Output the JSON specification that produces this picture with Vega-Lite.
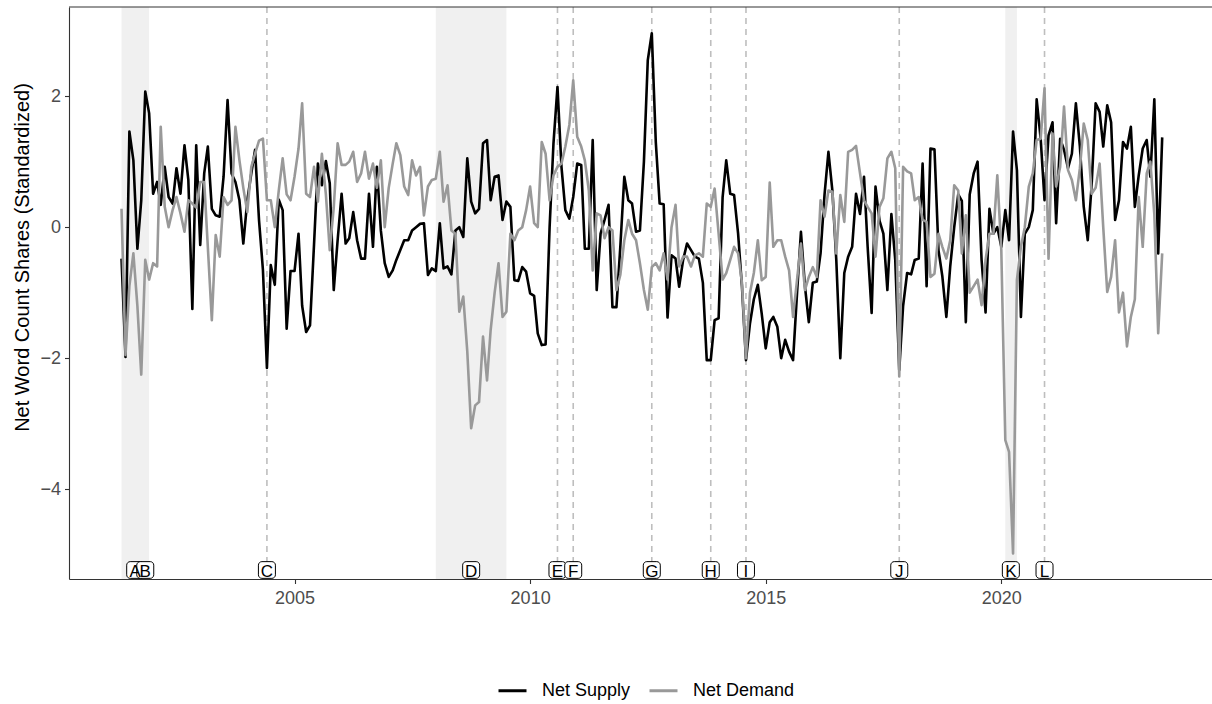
{
  "$schema": "https://vega.github.io/schema/vega-lite/v6.json",
  "autosize": {"type": "none"},
  "padding": {"left": 69, "top": 7, "right": 0, "bottom": 125},
  "width": 1143,
  "height": 572,
  "background": "white",
  "config": {
    "view": {"stroke": null},
    "font": "Liberation Sans",
    "axis": {"grid": false, "domainColor": "#333333", "domainWidth": 1.1, "tickColor": "#333333", "tickWidth": 1.1, "tickSize": 4.5, "labelColor": "#4D4D4D", "labelFontSize": 18, "labelFont": "Liberation Sans", "titleFont": "Liberation Sans", "titleFontWeight": "normal", "titleColor": "#000000"}
  },
  "datasets": {
    "series": [
      {"date": "2001-05", "Net Supply": -0.48, "Net Demand": 0.28},
      {"date": "2001-06", "Net Supply": -1.98, "Net Demand": -1.95},
      {"date": "2001-07", "Net Supply": 1.46, "Net Demand": -0.9},
      {"date": "2001-08", "Net Supply": 1.02, "Net Demand": -0.4},
      {"date": "2001-09", "Net Supply": -0.33, "Net Demand": -1.2},
      {"date": "2001-10", "Net Supply": 0.41, "Net Demand": -2.25},
      {"date": "2001-11", "Net Supply": 2.07, "Net Demand": -0.5},
      {"date": "2001-12", "Net Supply": 1.74, "Net Demand": -0.8},
      {"date": "2002-01", "Net Supply": 0.51, "Net Demand": -0.55},
      {"date": "2002-02", "Net Supply": 0.69, "Net Demand": -0.6},
      {"date": "2002-03", "Net Supply": 0.34, "Net Demand": 1.53},
      {"date": "2002-04", "Net Supply": 0.92, "Net Demand": 0.31},
      {"date": "2002-05", "Net Supply": 0.46, "Net Demand": 0.0},
      {"date": "2002-06", "Net Supply": 0.36, "Net Demand": 0.26},
      {"date": "2002-07", "Net Supply": 0.9, "Net Demand": 0.46},
      {"date": "2002-08", "Net Supply": 0.51, "Net Demand": 0.21},
      {"date": "2002-09", "Net Supply": 1.25, "Net Demand": -0.07},
      {"date": "2002-10", "Net Supply": 0.72, "Net Demand": 0.41},
      {"date": "2002-11", "Net Supply": -1.25, "Net Demand": 0.36},
      {"date": "2002-12", "Net Supply": 1.25, "Net Demand": 0.3},
      {"date": "2003-01", "Net Supply": -0.27, "Net Demand": 0.69},
      {"date": "2003-02", "Net Supply": 0.82, "Net Demand": 0.69},
      {"date": "2003-03", "Net Supply": 1.23, "Net Demand": -0.3},
      {"date": "2003-04", "Net Supply": 0.28, "Net Demand": -1.42},
      {"date": "2003-05", "Net Supply": 0.18, "Net Demand": -0.12},
      {"date": "2003-06", "Net Supply": 0.16, "Net Demand": -0.45},
      {"date": "2003-07", "Net Supply": 0.77, "Net Demand": 0.46},
      {"date": "2003-08", "Net Supply": 1.94, "Net Demand": 0.34},
      {"date": "2003-09", "Net Supply": 0.82, "Net Demand": 0.41},
      {"date": "2003-10", "Net Supply": 0.69, "Net Demand": 1.53},
      {"date": "2003-11", "Net Supply": 0.41, "Net Demand": 1.02},
      {"date": "2003-12", "Net Supply": -0.25, "Net Demand": 0.6},
      {"date": "2004-01", "Net Supply": 0.41, "Net Demand": 0.23},
      {"date": "2004-02", "Net Supply": 0.82, "Net Demand": 0.92},
      {"date": "2004-03", "Net Supply": 1.18, "Net Demand": 1.12},
      {"date": "2004-04", "Net Supply": 0.1, "Net Demand": 1.32},
      {"date": "2004-05", "Net Supply": -0.65, "Net Demand": 1.35},
      {"date": "2004-06", "Net Supply": -2.15, "Net Demand": 0.41},
      {"date": "2004-07", "Net Supply": -0.58, "Net Demand": 0.41},
      {"date": "2004-08", "Net Supply": -0.88, "Net Demand": 0.0},
      {"date": "2004-09", "Net Supply": 0.42, "Net Demand": 0.56},
      {"date": "2004-10", "Net Supply": 0.26, "Net Demand": 1.05},
      {"date": "2004-11", "Net Supply": -1.55, "Net Demand": 0.5},
      {"date": "2004-12", "Net Supply": -0.67, "Net Demand": 0.41},
      {"date": "2005-01", "Net Supply": -0.67, "Net Demand": 0.77},
      {"date": "2005-02", "Net Supply": -0.1, "Net Demand": 1.2},
      {"date": "2005-03", "Net Supply": -1.2, "Net Demand": 1.89},
      {"date": "2005-04", "Net Supply": -1.6, "Net Demand": 0.51},
      {"date": "2005-05", "Net Supply": -1.5, "Net Demand": 0.46},
      {"date": "2005-06", "Net Supply": -0.27, "Net Demand": 0.92},
      {"date": "2005-07", "Net Supply": 0.97, "Net Demand": 0.39},
      {"date": "2005-08", "Net Supply": 0.64, "Net Demand": 1.12},
      {"date": "2005-09", "Net Supply": 1.01, "Net Demand": 0.5},
      {"date": "2005-10", "Net Supply": 0.67, "Net Demand": -0.35},
      {"date": "2005-11", "Net Supply": -0.96, "Net Demand": 0.3},
      {"date": "2005-12", "Net Supply": -0.2, "Net Demand": 1.28},
      {"date": "2006-01", "Net Supply": 0.51, "Net Demand": 0.95},
      {"date": "2006-02", "Net Supply": -0.25, "Net Demand": 0.95},
      {"date": "2006-03", "Net Supply": -0.17, "Net Demand": 1.0},
      {"date": "2006-04", "Net Supply": 0.23, "Net Demand": 1.15},
      {"date": "2006-05", "Net Supply": -0.2, "Net Demand": 0.69},
      {"date": "2006-06", "Net Supply": -0.48, "Net Demand": 0.82},
      {"date": "2006-07", "Net Supply": -0.48, "Net Demand": 1.15},
      {"date": "2006-08", "Net Supply": 0.51, "Net Demand": 0.74},
      {"date": "2006-09", "Net Supply": -0.3, "Net Demand": 0.97},
      {"date": "2006-10", "Net Supply": 0.92, "Net Demand": 0.6},
      {"date": "2006-11", "Net Supply": -0.05, "Net Demand": 1.02},
      {"date": "2006-12", "Net Supply": -0.55, "Net Demand": 0.0},
      {"date": "2007-01", "Net Supply": -0.76, "Net Demand": 0.6},
      {"date": "2007-02", "Net Supply": -0.66, "Net Demand": 0.97},
      {"date": "2007-03", "Net Supply": -0.5, "Net Demand": 1.28},
      {"date": "2007-04", "Net Supply": -0.35, "Net Demand": 1.1},
      {"date": "2007-05", "Net Supply": -0.2, "Net Demand": 0.62},
      {"date": "2007-06", "Net Supply": -0.2, "Net Demand": 0.49},
      {"date": "2007-07", "Net Supply": -0.05, "Net Demand": 1.02},
      {"date": "2007-08", "Net Supply": 0.0, "Net Demand": 0.79},
      {"date": "2007-09", "Net Supply": 0.05, "Net Demand": 0.92},
      {"date": "2007-10", "Net Supply": 0.06, "Net Demand": 0.18},
      {"date": "2007-11", "Net Supply": -0.73, "Net Demand": 0.62},
      {"date": "2007-12", "Net Supply": -0.63, "Net Demand": 0.72},
      {"date": "2008-01", "Net Supply": -0.67, "Net Demand": 0.74},
      {"date": "2008-02", "Net Supply": 0.06, "Net Demand": 1.15},
      {"date": "2008-03", "Net Supply": -0.63, "Net Demand": 0.39},
      {"date": "2008-04", "Net Supply": -0.6, "Net Demand": 0.64},
      {"date": "2008-05", "Net Supply": -0.72, "Net Demand": -0.05},
      {"date": "2008-06", "Net Supply": -0.05, "Net Demand": -0.1},
      {"date": "2008-07", "Net Supply": 0.0, "Net Demand": -1.29},
      {"date": "2008-08", "Net Supply": -0.15, "Net Demand": -1.06},
      {"date": "2008-09", "Net Supply": 1.05, "Net Demand": -1.9},
      {"date": "2008-10", "Net Supply": 0.39, "Net Demand": -3.07},
      {"date": "2008-11", "Net Supply": 0.21, "Net Demand": -2.72},
      {"date": "2008-12", "Net Supply": 0.28, "Net Demand": -2.67},
      {"date": "2009-01", "Net Supply": 1.28, "Net Demand": -1.67},
      {"date": "2009-02", "Net Supply": 1.33, "Net Demand": -2.34},
      {"date": "2009-03", "Net Supply": 0.41, "Net Demand": -1.57},
      {"date": "2009-04", "Net Supply": 0.77, "Net Demand": -1.0},
      {"date": "2009-05", "Net Supply": 0.79, "Net Demand": -0.55},
      {"date": "2009-06", "Net Supply": 0.11, "Net Demand": -1.37},
      {"date": "2009-07", "Net Supply": 0.39, "Net Demand": -1.29},
      {"date": "2009-08", "Net Supply": 0.31, "Net Demand": -0.1},
      {"date": "2009-09", "Net Supply": -0.81, "Net Demand": -0.2},
      {"date": "2009-10", "Net Supply": -0.82, "Net Demand": -0.05},
      {"date": "2009-11", "Net Supply": -0.61, "Net Demand": 0.0},
      {"date": "2009-12", "Net Supply": -0.68, "Net Demand": 0.26},
      {"date": "2010-01", "Net Supply": -1.01, "Net Demand": 0.62},
      {"date": "2010-02", "Net Supply": -1.05, "Net Demand": 0.06},
      {"date": "2010-03", "Net Supply": -1.62, "Net Demand": 0.0},
      {"date": "2010-04", "Net Supply": -1.8, "Net Demand": 1.3},
      {"date": "2010-05", "Net Supply": -1.79, "Net Demand": 1.12},
      {"date": "2010-06", "Net Supply": 0.0, "Net Demand": 0.41},
      {"date": "2010-07", "Net Supply": 1.28, "Net Demand": 0.79},
      {"date": "2010-08", "Net Supply": 2.14, "Net Demand": 0.92},
      {"date": "2010-09", "Net Supply": 0.92, "Net Demand": 0.97},
      {"date": "2010-10", "Net Supply": 0.26, "Net Demand": 1.23},
      {"date": "2010-11", "Net Supply": 0.13, "Net Demand": 1.56},
      {"date": "2010-12", "Net Supply": 0.46, "Net Demand": 2.24},
      {"date": "2011-01", "Net Supply": 0.97, "Net Demand": 1.38},
      {"date": "2011-02", "Net Supply": 0.95, "Net Demand": 1.23},
      {"date": "2011-03", "Net Supply": -0.33, "Net Demand": 1.02},
      {"date": "2011-04", "Net Supply": -0.33, "Net Demand": 0.56},
      {"date": "2011-05", "Net Supply": 1.33, "Net Demand": -0.66},
      {"date": "2011-06", "Net Supply": -0.96, "Net Demand": 0.21},
      {"date": "2011-07", "Net Supply": -0.1, "Net Demand": 0.18},
      {"date": "2011-08", "Net Supply": 0.11, "Net Demand": -0.17},
      {"date": "2011-09", "Net Supply": 0.34, "Net Demand": 0.0},
      {"date": "2011-10", "Net Supply": -1.22, "Net Demand": -0.05},
      {"date": "2011-11", "Net Supply": -1.22, "Net Demand": -0.96},
      {"date": "2011-12", "Net Supply": -0.3, "Net Demand": -0.73},
      {"date": "2012-01", "Net Supply": 0.77, "Net Demand": -0.2},
      {"date": "2012-02", "Net Supply": 0.41, "Net Demand": 0.11},
      {"date": "2012-03", "Net Supply": 0.36, "Net Demand": -0.1},
      {"date": "2012-04", "Net Supply": -0.07, "Net Demand": -0.2},
      {"date": "2012-05", "Net Supply": -0.05, "Net Demand": -0.55},
      {"date": "2012-06", "Net Supply": 1.0, "Net Demand": -0.96},
      {"date": "2012-07", "Net Supply": 2.55, "Net Demand": -1.26},
      {"date": "2012-08", "Net Supply": 2.96, "Net Demand": -0.61},
      {"date": "2012-09", "Net Supply": 1.3, "Net Demand": -0.55},
      {"date": "2012-10", "Net Supply": 0.36, "Net Demand": -0.66},
      {"date": "2012-11", "Net Supply": 0.35, "Net Demand": -0.4},
      {"date": "2012-12", "Net Supply": -1.38, "Net Demand": -0.8},
      {"date": "2013-01", "Net Supply": -0.43, "Net Demand": 0.0},
      {"date": "2013-02", "Net Supply": -0.48, "Net Demand": 0.34},
      {"date": "2013-03", "Net Supply": -0.91, "Net Demand": -0.6},
      {"date": "2013-04", "Net Supply": -0.5, "Net Demand": -0.45},
      {"date": "2013-05", "Net Supply": -0.25, "Net Demand": -0.45},
      {"date": "2013-06", "Net Supply": -0.35, "Net Demand": -0.6},
      {"date": "2013-07", "Net Supply": -0.45, "Net Demand": -0.43},
      {"date": "2013-08", "Net Supply": -0.48, "Net Demand": -0.4},
      {"date": "2013-09", "Net Supply": -0.85, "Net Demand": -0.45},
      {"date": "2013-10", "Net Supply": -2.03, "Net Demand": 0.36},
      {"date": "2013-11", "Net Supply": -2.03, "Net Demand": 0.31},
      {"date": "2013-12", "Net Supply": -1.42, "Net Demand": 0.59},
      {"date": "2014-01", "Net Supply": -1.39, "Net Demand": -0.1},
      {"date": "2014-02", "Net Supply": 0.46, "Net Demand": -0.8},
      {"date": "2014-03", "Net Supply": 1.02, "Net Demand": -0.7},
      {"date": "2014-04", "Net Supply": 0.51, "Net Demand": -0.5},
      {"date": "2014-05", "Net Supply": 0.49, "Net Demand": -0.3},
      {"date": "2014-06", "Net Supply": -0.1, "Net Demand": -0.4},
      {"date": "2014-07", "Net Supply": -0.91, "Net Demand": -0.85},
      {"date": "2014-08", "Net Supply": -2.03, "Net Demand": -2.0},
      {"date": "2014-09", "Net Supply": -1.47, "Net Demand": -1.0},
      {"date": "2014-10", "Net Supply": -1.1, "Net Demand": -0.7},
      {"date": "2014-11", "Net Supply": -0.88, "Net Demand": -0.2},
      {"date": "2014-12", "Net Supply": -1.32, "Net Demand": -0.81},
      {"date": "2015-01", "Net Supply": -1.85, "Net Demand": -0.76},
      {"date": "2015-02", "Net Supply": -1.45, "Net Demand": 0.68},
      {"date": "2015-03", "Net Supply": -1.37, "Net Demand": -0.3},
      {"date": "2015-04", "Net Supply": -1.52, "Net Demand": -0.2},
      {"date": "2015-05", "Net Supply": -2.0, "Net Demand": -0.2},
      {"date": "2015-06", "Net Supply": -1.72, "Net Demand": -0.45},
      {"date": "2015-07", "Net Supply": -1.9, "Net Demand": -0.66},
      {"date": "2015-08", "Net Supply": -2.03, "Net Demand": -1.37},
      {"date": "2015-09", "Net Supply": -1.0, "Net Demand": -0.8},
      {"date": "2015-10", "Net Supply": -0.07, "Net Demand": -0.25},
      {"date": "2015-11", "Net Supply": -0.9, "Net Demand": -0.96},
      {"date": "2015-12", "Net Supply": -1.45, "Net Demand": -0.76},
      {"date": "2016-01", "Net Supply": -0.85, "Net Demand": -0.61},
      {"date": "2016-02", "Net Supply": -0.83, "Net Demand": -0.76},
      {"date": "2016-03", "Net Supply": -0.4, "Net Demand": 0.41},
      {"date": "2016-04", "Net Supply": 0.5, "Net Demand": 0.16},
      {"date": "2016-05", "Net Supply": 1.15, "Net Demand": 0.56},
      {"date": "2016-06", "Net Supply": 0.55, "Net Demand": 0.54},
      {"date": "2016-07", "Net Supply": -0.5, "Net Demand": -0.4},
      {"date": "2016-08", "Net Supply": -2.0, "Net Demand": 0.49},
      {"date": "2016-09", "Net Supply": -0.7, "Net Demand": 0.08},
      {"date": "2016-10", "Net Supply": -0.45, "Net Demand": 1.15},
      {"date": "2016-11", "Net Supply": -0.3, "Net Demand": 1.18},
      {"date": "2016-12", "Net Supply": 0.51, "Net Demand": 1.24},
      {"date": "2017-01", "Net Supply": 0.2, "Net Demand": 0.82},
      {"date": "2017-02", "Net Supply": 0.77, "Net Demand": 0.41},
      {"date": "2017-03", "Net Supply": -0.3, "Net Demand": 0.31},
      {"date": "2017-04", "Net Supply": -1.31, "Net Demand": 0.21},
      {"date": "2017-05", "Net Supply": 0.62, "Net Demand": -0.45},
      {"date": "2017-06", "Net Supply": 0.1, "Net Demand": 0.31},
      {"date": "2017-07", "Net Supply": -0.1, "Net Demand": 0.44},
      {"date": "2017-08", "Net Supply": -0.96, "Net Demand": 1.05},
      {"date": "2017-09", "Net Supply": 0.2, "Net Demand": 1.15},
      {"date": "2017-10", "Net Supply": -0.5, "Net Demand": 0.9},
      {"date": "2017-11", "Net Supply": -2.18, "Net Demand": -2.28},
      {"date": "2017-12", "Net Supply": -1.2, "Net Demand": 0.92},
      {"date": "2018-01", "Net Supply": -0.7, "Net Demand": 0.85},
      {"date": "2018-02", "Net Supply": -0.72, "Net Demand": 0.82},
      {"date": "2018-03", "Net Supply": -0.5, "Net Demand": 0.41},
      {"date": "2018-04", "Net Supply": -0.48, "Net Demand": 0.46},
      {"date": "2018-05", "Net Supply": 0.97, "Net Demand": 0.11},
      {"date": "2018-06", "Net Supply": -0.9, "Net Demand": 0.08},
      {"date": "2018-07", "Net Supply": 1.2, "Net Demand": -0.76},
      {"date": "2018-08", "Net Supply": 1.19, "Net Demand": -0.71},
      {"date": "2018-09", "Net Supply": -0.35, "Net Demand": -0.1},
      {"date": "2018-10", "Net Supply": -0.75, "Net Demand": -0.3},
      {"date": "2018-11", "Net Supply": -1.37, "Net Demand": -0.48},
      {"date": "2018-12", "Net Supply": -0.6, "Net Demand": -0.2},
      {"date": "2019-01", "Net Supply": 0.0, "Net Demand": 0.64},
      {"date": "2019-02", "Net Supply": 0.5, "Net Demand": 0.56},
      {"date": "2019-03", "Net Supply": 0.4, "Net Demand": -0.4},
      {"date": "2019-04", "Net Supply": -1.45, "Net Demand": 0.18},
      {"date": "2019-05", "Net Supply": 0.5, "Net Demand": -1.0},
      {"date": "2019-06", "Net Supply": 0.82, "Net Demand": -0.9},
      {"date": "2019-07", "Net Supply": 1.0, "Net Demand": -0.8},
      {"date": "2019-08", "Net Supply": -0.5, "Net Demand": -1.19},
      {"date": "2019-09", "Net Supply": -1.3, "Net Demand": -0.5},
      {"date": "2019-10", "Net Supply": 0.28, "Net Demand": -0.1},
      {"date": "2019-11", "Net Supply": -0.1, "Net Demand": -0.1},
      {"date": "2019-12", "Net Supply": 0.0, "Net Demand": 0.79},
      {"date": "2020-01", "Net Supply": -0.3, "Net Demand": -0.35},
      {"date": "2020-02", "Net Supply": 0.26, "Net Demand": -3.25},
      {"date": "2020-03", "Net Supply": -0.2, "Net Demand": -3.43},
      {"date": "2020-04", "Net Supply": 1.46, "Net Demand": -4.98},
      {"date": "2020-05", "Net Supply": 0.87, "Net Demand": -0.8},
      {"date": "2020-06", "Net Supply": -1.37, "Net Demand": -0.3},
      {"date": "2020-07", "Net Supply": -0.1, "Net Demand": 0.0},
      {"date": "2020-08", "Net Supply": 0.0, "Net Demand": 0.62},
      {"date": "2020-09", "Net Supply": 0.26, "Net Demand": 0.82},
      {"date": "2020-10", "Net Supply": 1.95, "Net Demand": 1.33},
      {"date": "2020-11", "Net Supply": 1.35, "Net Demand": 1.35},
      {"date": "2020-12", "Net Supply": 0.41, "Net Demand": 2.12},
      {"date": "2021-01", "Net Supply": 1.4, "Net Demand": -0.48},
      {"date": "2021-02", "Net Supply": 1.6, "Net Demand": 1.43},
      {"date": "2021-03", "Net Supply": 0.06, "Net Demand": 0.62},
      {"date": "2021-04", "Net Supply": 1.35, "Net Demand": 0.92},
      {"date": "2021-05", "Net Supply": 1.18, "Net Demand": 1.84},
      {"date": "2021-06", "Net Supply": 0.9, "Net Demand": 0.87},
      {"date": "2021-07", "Net Supply": 1.12, "Net Demand": 0.72},
      {"date": "2021-08", "Net Supply": 1.89, "Net Demand": 0.41},
      {"date": "2021-09", "Net Supply": 1.23, "Net Demand": 0.9},
      {"date": "2021-10", "Net Supply": 0.31, "Net Demand": 1.58},
      {"date": "2021-11", "Net Supply": -0.2, "Net Demand": 1.33},
      {"date": "2021-12", "Net Supply": 0.64, "Net Demand": 0.51},
      {"date": "2022-01", "Net Supply": 1.89, "Net Demand": 0.6},
      {"date": "2022-02", "Net Supply": 1.76, "Net Demand": 0.97},
      {"date": "2022-03", "Net Supply": 1.23, "Net Demand": 0.0},
      {"date": "2022-04", "Net Supply": 1.86, "Net Demand": -0.99},
      {"date": "2022-05", "Net Supply": 1.6, "Net Demand": -0.76},
      {"date": "2022-06", "Net Supply": 0.11, "Net Demand": -0.2},
      {"date": "2022-07", "Net Supply": 0.41, "Net Demand": -1.3},
      {"date": "2022-08", "Net Supply": 1.3, "Net Demand": -1.0},
      {"date": "2022-09", "Net Supply": 1.2, "Net Demand": -1.82},
      {"date": "2022-10", "Net Supply": 1.53, "Net Demand": -1.37},
      {"date": "2022-11", "Net Supply": 0.31, "Net Demand": -1.1},
      {"date": "2022-12", "Net Supply": 0.79, "Net Demand": 0.46},
      {"date": "2023-01", "Net Supply": 1.2, "Net Demand": -0.3},
      {"date": "2023-02", "Net Supply": 1.33, "Net Demand": 0.82},
      {"date": "2023-03", "Net Supply": 0.77, "Net Demand": 1.0},
      {"date": "2023-04", "Net Supply": 1.95, "Net Demand": 0.2},
      {"date": "2023-05", "Net Supply": -0.4, "Net Demand": -1.62},
      {"date": "2023-06", "Net Supply": 1.37, "Net Demand": -0.4}
    ],
    "events": [
      {"date": "2001-08-15", "letter": "A"},
      {"date": "2001-11-01", "letter": "B"},
      {"date": "2004-06-01", "letter": "C"},
      {"date": "2008-10-01", "letter": "D"},
      {"date": "2010-08-01", "letter": "E"},
      {"date": "2010-12-01", "letter": "F"},
      {"date": "2012-08-01", "letter": "G"},
      {"date": "2013-11-01", "letter": "H"},
      {"date": "2014-08-01", "letter": "I"},
      {"date": "2017-11-01", "letter": "J"},
      {"date": "2020-03-15", "letter": "K"},
      {"date": "2020-12-01", "letter": "L"}
    ],
    "recessions": [
      {"date": "2001-05", "end": "2001-12"},
      {"date": "2008-01", "end": "2009-07"},
      {"date": "2020-02", "end": "2020-05"}
    ]
  },
  "layer": [
    {
      "data": {"name": "events"},
      "mark": {"type": "rule", "color": "#BEBEBE", "strokeWidth": 1.6, "strokeDash": [6, 5]},
      "encoding": {
        "x": {"field": "date", "type": "temporal",
              "scale": {"type": "utc", "padding": 0, "domain": [{"year": 2000, "month": 3, "date": 20, "utc": true}, {"year": 2024, "month": 6, "date": 21, "utc": true}]},
              "axis": {"values": [{"year": 2005, "utc": true}, {"year": 2010, "utc": true}, {"year": 2015, "utc": true}, {"year": 2020, "utc": true}],
                       "format": "%Y", "formatType": "utc", "title": null, "labelPadding": 6, "labelFlush": false}}
      }
    },
    {
      "data": {"name": "recessions"},
      "mark": {"type": "rect", "color": "#F0F0F0"},
      "encoding": {
        "x": {"field": "date", "type": "temporal", "title": null},
        "x2": {"field": "end"}
      }
    },
    {
      "data": {"name": "series"},
      "transform": [{"fold": ["Net Supply", "Net Demand"], "as": ["series", "value"]}],
      "mark": {"type": "line", "strokeWidth": 2.6, "strokeJoin": "round", "strokeCap": "butt"},
      "encoding": {
        "x": {"field": "date", "type": "temporal", "title": null},
        "y": {"field": "value", "type": "quantitative",
              "scale": {"domain": [-5.37, 3.36], "nice": false, "zero": false, "padding": 0},
              "axis": {"values": [-4, -2, 0, 2], "format": "d", "title": "Net Word Count Shares (Standardized)", "titleFontSize": 20,
                       "titleX": -47, "titleY": 250, "titleAngle": -90, "titleAlign": "center", "titleBaseline": "middle", "labelPadding": 4}},
        "color": {"field": "series", "type": "nominal",
                  "scale": {"domain": ["Net Supply", "Net Demand"], "range": ["#000000", "#999999"]},
                  "legend": {"title": null, "orient": "none", "legendX": 428, "legendY": 668, "direction": "horizontal",
                             "symbolType": "stroke", "symbolSize": 784, "symbolStrokeWidth": 3, "labelFontSize": 18,
                             "labelColor": "#000000", "labelOffset": 14, "columnPadding": 12, "padding": 0}},
        "order": {"field": "date", "type": "temporal"}
      }
    },
    {
      "data": {"values": [{"edge": "top"}]},
      "mark": {"type": "rule", "color": "#333333", "strokeWidth": 1.1},
      "encoding": {"y": {"datum": 3.36, "type": "quantitative", "title": null}}
    },
    {
      "data": {"name": "events"},
      "mark": {"type": "bar", "fill": "white", "stroke": "#000000", "strokeWidth": 1, "cornerRadius": 3.5},
      "encoding": {
        "x": {"field": "date", "type": "temporal", "title": null},
        "y": {"datum": -5.105, "type": "quantitative", "title": null},
        "y2": {"datum": -5.36},
        "size": {"field": "letter", "type": "nominal", "legend": null,
                 "scale": {"domain": ["A", "B", "C", "D", "E", "F", "G", "H", "I", "J", "K", "L"],
                           "range": [17, 17, 18, 18, 17, 16, 19, 18, 10, 14, 17, 15]}}
      }
    },
    {
      "data": {"name": "events"},
      "mark": {"type": "text", "fontSize": 17, "color": "#000000", "baseline": "alphabetic", "align": "center"},
      "encoding": {
        "x": {"field": "date", "type": "temporal", "title": null},
        "y": {"datum": -5.335, "type": "quantitative", "title": null},
        "text": {"field": "letter"}
      }
    }
  ]
}
